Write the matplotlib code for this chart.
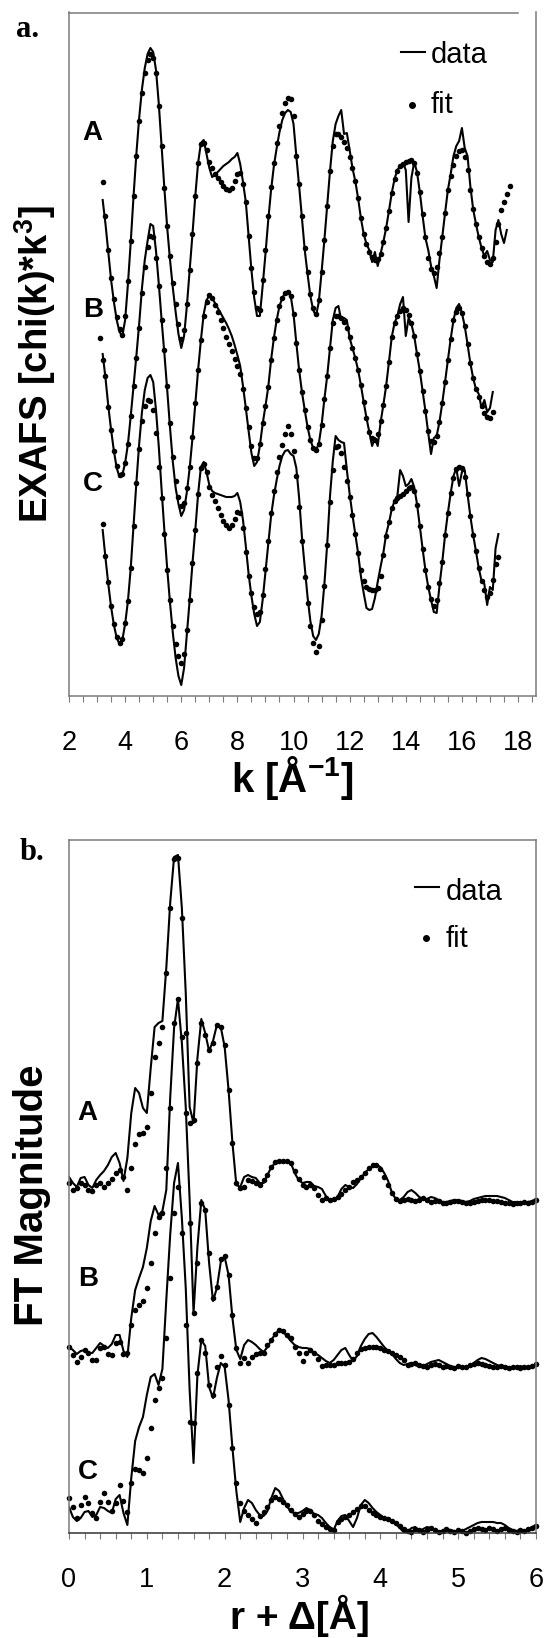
import numpy as np
import matplotlib.pyplot as plt
from matplotlib.lines import Line2D
from matplotlib.ticker import MultipleLocator

plt.rcParams['font.family'] = ['Liberation Sans', 'DejaVu Sans']
plt.rcParams['mathtext.fontset'] = 'custom'
plt.rcParams['mathtext.rm'] = 'Liberation Sans'
plt.rcParams['mathtext.bf'] = 'Liberation Sans:bold'

W, H = 548, 1638

# ---------------- panel a: EXAFS, k grid step 0.1, offsets already in values
A_data_k0 = 3.2
A_data = [49.6, 47.2, 44.4, 41.6, 39.4, 37.6, 36.4, 36.0,
          37.6, 41.2, 45.4, 50.0, 54.2, 57.8, 60.7, 62.8, 64.2, 64.8,
          64.4, 62.6, 59.2, 55.0, 50.7, 46.8, 43.6, 40.8, 38.4, 36.2,
          34.8, 36.0, 39.0, 42.6, 46.2, 50.0, 53.3, 55.3, 55.6, 54.2,
          52.8, 51.9, 52.1, 52.4, 52.7, 53.0, 53.2, 53.4, 53.7, 53.9,
          54.3, 53.2, 51.4, 49.4, 46.0, 42.6, 39.8, 38.0, 38.0, 41.0,
          44.2, 47.6, 50.6, 53.0, 54.8, 56.4, 57.6, 58.3, 58.6, 58.4,
          57.2, 54.0, 51.0, 47.8, 44.6, 42.2, 40.0, 38.6, 38.0, 39.4,
          42.4, 45.6, 49.0, 52.5, 55.5, 57.2, 58.0, 58.6, 56.2, 56.3,
          54.6, 52.8, 51.5, 49.8, 47.8, 46.2, 45.2, 44.6, 43.4, 44.4,
          43.0, 44.2, 45.4, 46.8, 48.5, 50.3, 51.7, 52.6, 53.0, 53.3,
          52.6, 47.4, 51.8, 53.4, 52.4, 50.4, 48.0, 45.8, 44.6, 43.0,
          42.0, 40.8, 43.6, 45.9, 48.3, 50.6, 52.2, 54.0, 55.0, 55.5,
          56.8, 54.8, 54.0, 51.0, 48.7, 47.2, 45.9, 44.8, 44.0, 44.5,
          43.6, 43.4, 46.6, 47.6, 46.2, 45.3, 46.6]
A_fit_k0 = 3.2
A_fit = [51.4, 48.0, 44.6, 41.8, 39.7, 37.9, 36.7, 36.1,
         38.0, 41.5, 45.5, 50.0, 54.0, 57.5, 60.3, 62.3, 63.6, 64.2,
         63.8, 62.3, 59.0, 55.0, 50.8, 47.0, 44.0, 41.3, 39.2, 37.2,
         35.7, 36.6, 39.2, 42.6, 46.2, 50.0, 53.3, 55.2, 55.3, 54.6,
         53.4, 52.8, 52.2, 51.8, 51.4, 51.0, 50.7, 50.6, 50.8, 51.5,
         52.2, 52.3, 51.2, 49.4, 46.0, 42.8, 40.4, 38.8, 38.6, 41.6,
         44.6, 48.0, 50.9, 53.3, 55.3, 57.0, 58.3, 59.3, 59.8, 59.7,
         58.0, 54.0, 51.2, 48.0, 44.8, 42.4, 40.2, 38.8, 38.2, 39.6,
         42.4, 45.6, 49.0, 52.5, 55.0, 56.2, 56.2, 55.9, 55.4, 54.8,
         53.9, 52.8, 51.5, 49.8, 47.8, 46.2, 45.2, 44.4, 43.9, 43.6,
         43.7, 44.2, 45.4, 46.8, 48.5, 50.3, 51.7, 52.5, 53.0, 53.2,
         53.4, 53.5, 53.6, 53.3, 52.3, 50.4, 48.2, 45.9, 43.8, 42.7,
         42.3, 42.9, 44.3, 45.9, 48.3, 50.6, 52.0, 53.1, 54.0, 54.5,
         54.6, 53.9, 52.6, 50.6, 48.7, 47.2, 45.9, 44.8, 44.0, 43.4,
         43.2, 43.8, 45.4, 47.2, 48.6, 49.4, 50.2, 51.0]

B_data_k0 = 3.2
B_data = [34.2, 31.8, 29.0, 26.6, 24.5, 22.8, 21.9, 22.1,
          23.3, 25.2, 28.0, 31.0, 34.0, 37.2, 40.8, 43.6, 45.5, 47.2,
          47.0, 44.5, 41.2, 37.6, 34.2, 30.6, 26.8, 23.4, 20.8, 19.2,
          18.0, 18.6, 20.4, 22.8, 25.8, 29.2, 32.6, 35.6, 38.2, 39.6,
          40.0, 39.8, 39.3, 38.8, 38.3, 37.8, 37.3, 36.7, 36.0, 35.1,
          34.1, 33.0, 31.0, 28.8, 26.5, 24.3, 23.0, 23.4, 25.0, 27.2,
          29.0, 30.9, 33.6, 35.8, 37.6, 39.0, 39.8, 40.3, 40.4, 40.0,
          38.2, 35.3, 32.6, 30.4, 28.6, 26.9, 25.6, 24.8, 24.6, 25.2,
          27.1, 29.7, 32.0, 34.8, 37.6, 38.8, 39.0, 37.6, 37.8, 37.6,
          35.8, 34.8, 33.8, 32.6, 31.1, 29.4, 27.8, 26.4, 25.0, 25.8,
          25.0, 27.3, 29.1, 31.0, 33.4, 35.9, 37.3, 38.0, 39.2, 39.9,
          36.0, 37.8, 37.2, 36.0, 34.2, 32.5, 30.5, 28.5, 26.3, 24.2,
          25.8, 26.0, 27.4, 29.3, 31.4, 33.6, 35.7, 37.6, 38.8, 39.2,
          38.3, 37.0, 35.2, 33.3, 31.8, 30.7, 30.2, 28.8, 29.6, 28.4,
          28.8, 30.4]
B_fit_k0 = 3.1
B_fit = [35.8, 33.6, 32.0, 28.9, 26.6, 24.5, 23.0, 22.1, 22.2,
         23.3, 25.2, 28.0, 31.0, 33.8, 36.8, 40.3, 42.9, 44.9, 46.0,
         45.9, 43.8, 41.0, 37.6, 34.6, 31.0, 27.3, 23.9, 21.5, 19.9,
         19.0, 19.3, 20.8, 22.9, 25.9, 29.3, 32.6, 35.6, 38.0, 39.4,
         40.1, 39.8, 39.1, 38.4, 37.6, 36.8, 35.9, 35.2, 34.5, 33.7,
         33.0, 32.2, 30.7, 28.8, 26.9, 25.0, 23.8, 23.8, 25.2, 27.3,
         29.0, 30.9, 33.6, 35.8, 37.6, 39.0, 39.8, 40.3, 40.4, 40.0,
         38.2, 35.3, 32.6, 30.4, 28.6, 26.9, 25.6, 24.8, 24.6, 25.2,
         27.1, 29.7, 32.0, 34.8, 37.3, 38.0, 38.0, 37.8, 37.4, 36.8,
         35.9, 34.8, 33.8, 32.6, 31.1, 29.4, 27.8, 26.4, 25.8, 25.6,
         26.2, 27.5, 29.1, 31.0, 33.4, 35.9, 37.3, 38.0, 38.5, 38.8,
         38.6, 38.1, 37.3, 36.0, 34.2, 32.5, 30.5, 28.5, 26.5, 25.5,
         25.4, 26.0, 27.4, 29.3, 31.4, 33.6, 35.7, 37.6, 38.4, 38.8,
         38.3, 37.0, 35.2, 33.3, 31.8, 30.7, 29.9, 29.0, 28.3, 27.9,
         27.8, 28.4]

C_data_k0 = 3.2
C_data = [16.6, 13.8, 11.2, 8.9, 7.1, 5.8, 5.2, 5.6,
          7.2, 9.5, 12.8, 17.0, 21.3, 25.2, 28.4, 30.6, 31.8, 32.1,
          31.4, 28.6, 24.9, 20.6, 16.5, 12.7, 9.3, 6.3, 3.8, 2.0,
          1.1, 2.8, 6.2, 9.6, 13.3, 16.6, 20.2, 22.9, 23.4, 22.4,
          21.1, 20.5, 20.3, 20.2, 20.1, 20.0, 19.9, 19.9, 19.9, 20.0,
          20.3, 19.4, 17.6, 15.0, 12.2, 10.0, 8.2, 7.0, 7.4, 9.6,
          12.4, 15.2, 18.0, 20.0, 21.6, 23.0, 24.0, 24.5, 24.6, 24.2,
          24.0, 22.8, 19.8, 15.9, 12.9, 9.9, 7.5, 6.0, 5.6, 6.2,
          8.0, 11.2, 15.2, 20.0, 23.5, 26.0, 25.6, 25.4, 25.3, 22.6,
          20.2, 18.1, 16.2, 14.3, 12.0, 10.3, 8.8, 8.6, 8.7, 9.8,
          11.4, 12.9, 14.3, 16.2, 17.3, 18.7, 19.5, 20.0, 22.6, 22.0,
          21.0, 21.2, 21.7, 20.9, 19.2, 17.0, 14.7, 12.6, 10.9, 9.6,
          8.4, 8.3, 11.0, 13.4, 16.1, 18.3, 20.3, 22.0, 22.8, 21.0,
          22.4, 22.6, 20.2, 18.0, 16.1, 14.5, 12.8, 11.5, 11.2, 9.1,
          10.9, 10.6, 14.8, 16.2]
C_fit_k0 = 3.2
C_fit = [17.2, 14.0, 11.4, 9.0, 7.2, 5.9, 5.3, 5.7,
         7.3, 9.5, 12.8, 17.0, 21.3, 24.7, 27.5, 29.0, 29.6, 29.5,
         28.6, 26.3, 22.9, 19.8, 16.2, 12.6, 9.6, 7.0, 5.2, 4.0,
         3.3, 4.2, 6.6, 9.6, 13.3, 16.6, 20.2, 22.8, 23.2, 22.4,
         20.9, 20.1, 19.5, 18.8, 18.1, 17.5, 17.1, 16.8, 17.1, 17.7,
         18.4, 18.3, 16.8, 14.4, 12.0, 10.3, 8.9, 8.2, 8.4, 10.1,
         12.7, 15.5, 18.3, 20.5, 22.4, 23.9, 25.1, 26.2, 27.0, 26.2,
         24.5, 22.0, 18.9, 15.5, 11.9, 9.3, 7.0, 5.3, 4.4, 5.0,
         7.6, 11.0, 15.1, 19.4, 22.6, 24.9, 25.0, 24.3, 22.9, 21.5,
         19.9, 18.1, 16.2, 14.3, 12.6, 11.5, 10.9, 10.7, 10.6, 10.6,
         10.8, 12.0, 14.1, 16.0, 17.4, 18.8, 19.5, 19.8, 20.0, 20.2,
         20.5, 20.8, 20.9, 20.5, 19.1, 17.0, 14.7, 12.6, 10.9, 9.7,
         9.0, 9.6, 11.3, 13.4, 16.1, 18.3, 20.3, 21.8, 22.7, 22.9,
         22.8, 21.9, 20.2, 18.0, 16.1, 14.5, 12.8, 11.5, 10.6, 9.9,
         10.3, 11.6, 13.2, 13.9]

# ---------------- panel b: FT magnitude, r grid 0..6 step 0.05
FA_data = [35.6, 35.0, 34.6, 35.5, 35.6, 34.8, 34.5, 35.3, 35.8, 36.2, 36.8, 37.6, 38.0, 37.0, 35.2, 37.5, 42.0, 44.5, 44.0, 42.5,
           42.0, 46.5, 50.6, 51.0, 51.2, 56.5, 63.0, 67.6, 67.8, 62.5, 54.0, 42.6, 41.0, 47.5, 51.4, 50.0, 48.2, 49.2, 50.8, 50.6,
           48.6, 44.3, 39.0, 34.8, 34.6, 35.6, 35.8, 35.6, 35.5, 35.0, 35.0, 35.8, 36.6, 37.0, 37.1, 37.1, 37.1, 37.0, 36.0, 35.3,
           35.0, 35.1, 35.1, 34.7, 34.6, 34.4, 33.7, 33.3, 33.3, 33.6, 34.4, 34.8, 34.6, 34.5, 34.9, 35.5, 36.0, 36.4, 36.7, 36.8,
           36.6, 36.0, 35.2, 34.0, 33.4, 33.3, 33.6, 34.1, 34.3, 34.0, 33.6, 33.4, 33.4, 33.6, 33.5, 33.3, 33.1, 33.1, 33.2, 33.3,
           33.3, 33.2, 33.1, 33.2, 33.4, 33.5, 33.6, 33.7, 33.7, 33.7, 33.7, 33.6, 33.5, 33.3, 33.1, 33.1, 33.0, 33.1, 33.1, 33.2,
           33.4]
FA_fit = [35.0, 34.3, 34.5, 35.0, 34.8, 34.3, 34.2, 34.8, 35.0, 34.6, 35.0, 35.4, 36.0, 36.3, 35.6, 34.3, 36.5, 38.9, 39.9, 40.0,
          40.6, 44.0, 47.6, 49.0, 50.6, 56.0, 62.5, 67.4, 67.5, 61.5, 50.0, 41.0, 41.3, 47.0, 51.0, 49.8, 48.3, 49.0, 50.8, 50.6,
          48.8, 44.3, 39.0, 35.0, 34.5, 34.6, 35.3, 35.2, 35.0, 34.8, 35.3, 35.8, 36.6, 37.1, 37.2, 37.2, 37.2, 37.0, 36.2, 35.4,
          34.8, 34.6, 34.8, 34.5, 33.8, 33.3, 33.5, 33.3, 33.4, 33.6, 33.9, 34.3, 34.6, 35.1, 35.3, 35.6, 36.0, 36.5, 36.8, 36.8,
          36.4, 35.6, 34.8, 34.0, 33.4, 33.2, 33.3, 33.4, 33.3, 33.2, 33.3, 33.5, 33.3, 33.1, 33.2, 33.2, 33.0, 33.0, 33.1, 33.2,
          33.2, 33.1, 33.0, 33.0, 33.1, 33.2, 33.3, 33.3, 33.3, 33.2, 33.2, 33.1, 33.0, 33.0, 32.9, 33.0, 33.0, 33.1, 33.0, 33.1,
          33.3]
FB_data = [18.6, 18.3, 17.9, 18.2, 18.3, 18.0, 18.0, 18.5, 19.0, 18.7, 18.5, 18.9, 19.8, 19.8, 18.2, 17.6, 21.5, 24.3, 25.5, 26.6,
           28.5, 31.2, 32.7, 31.8, 32.2, 34.3, 43.5, 50.5, 53.4, 49.0, 42.6, 33.3, 22.0, 28.6, 33.3, 32.3, 27.0, 23.2, 24.5, 27.1,
           27.6, 25.8, 21.5, 18.3, 17.4, 18.8, 19.3, 19.1, 18.8, 18.4, 18.1, 18.6, 19.3, 19.9, 20.3, 20.1, 19.7, 19.2, 18.8, 18.6,
           18.5, 18.5, 18.4, 18.0, 17.8, 17.5, 17.2, 17.0, 17.3, 17.8, 18.3, 18.5, 17.8, 17.2, 17.7, 18.7, 19.4, 19.9, 20.0, 19.6,
           19.1, 18.6, 18.2, 17.9, 17.4, 17.0, 16.8, 16.9, 17.0, 16.8, 16.6, 16.7, 16.9, 17.1, 17.2, 17.3, 17.1, 16.9, 16.7, 16.6,
           16.6, 16.6, 16.6, 16.7, 17.0, 17.3, 17.5, 17.4, 17.2, 17.0, 16.8, 16.7, 16.6, 16.6, 16.6, 16.6, 16.7, 16.6, 16.6, 16.7,
           16.9]
FB_fit = [18.6, 17.8, 17.1, 17.6, 18.3, 18.0, 17.3, 17.3, 18.5, 18.6, 17.9, 17.8, 19.0, 19.1, 17.9, 18.0, 20.8, 22.3, 22.8, 23.2,
          24.5, 27.0, 30.0, 31.6, 32.0, 36.5, 42.5, 51.0, 53.4, 49.6, 42.0, 31.0, 22.0, 27.0, 33.0, 32.3, 28.0, 23.5, 24.6, 27.4,
          27.7, 25.8, 21.8, 18.5, 17.0, 17.5, 17.0, 17.6, 17.9, 18.0, 18.0, 18.8, 19.3, 19.9, 20.3, 20.2, 19.8, 19.5, 18.6, 18.0,
          17.2, 18.0, 18.3, 18.0, 17.4, 16.7, 16.8, 16.8, 16.8, 17.0, 17.0, 17.0, 17.1, 17.4, 18.0, 18.4, 18.5, 18.6, 18.6, 18.6,
          18.5, 18.3, 18.2, 18.0, 17.8, 17.6, 17.3, 16.8, 16.9, 17.0, 16.8, 16.7, 16.6, 16.8, 16.9, 16.8, 16.6, 16.7, 16.6, 16.5,
          16.7, 16.6, 16.6, 16.8, 16.9, 17.0, 16.9, 16.8, 16.7, 16.6, 16.6, 16.7, 16.6, 16.5, 16.6, 16.6, 16.5, 16.6, 16.6, 16.7,
          16.9]
FC_data = [2.6, 1.6, 1.2, 1.5, 2.1, 2.2, 1.6, 1.8, 2.6, 2.5, 2.2, 2.0, 3.4, 3.8, 2.0, 0.8, 5.5, 9.2, 10.6, 11.6,
           13.8, 15.6, 15.9, 14.8, 16.4, 23.3, 29.8, 35.0, 37.0, 31.5, 24.5, 14.3, 7.0, 15.8, 19.3, 18.7, 14.6, 13.5, 15.5, 17.0,
           16.6, 13.3, 8.5, 4.2, 1.1, 2.5, 3.3, 3.0, 2.3, 1.8, 1.7, 2.2, 3.5, 4.5, 4.2, 3.4, 2.7, 2.1, 2.0, 2.0,
           2.2, 2.5, 2.3, 1.9, 1.8, 1.5, 1.0, 0.6, 0.3, 1.2, 1.7, 1.8, 1.2, 0.6, 1.5, 2.8, 3.3, 3.0, 2.5, 2.1,
           1.8, 1.5, 1.3, 1.1, 0.9, 0.5, 0.1, 0.1, 0.5, 0.6, 0.2, 0.4, 0.6, 0.5, 0.3, 0.1, 0.2, 0.4, 0.3, 0.2,
           0.1, 0.2, 0.4, 0.6, 0.8, 1.0, 1.1, 1.1, 1.1, 1.1, 1.0, 1.0, 0.8, 0.5, 0.3, 0.2, 0.3, 0.2, 0.4, 0.6,
           0.8]
FC_fit = [3.5, 2.6, 1.5, 2.8, 3.6, 3.0, 2.0, 1.5, 3.1, 4.0, 3.1, 2.2, 3.0, 4.8, 3.2, 2.1, 5.0, 6.4, 6.3, 6.0,
          7.5, 10.5, 13.3, 14.5, 15.5, 19.5, 25.5, 32.0, 34.6, 30.0, 20.8, 11.1, 11.0, 16.0, 19.3, 18.0, 14.8, 13.8, 16.6, 17.7,
          16.8, 12.8, 8.5, 5.0, 3.0, 2.2, 1.8, 1.4, 1.0, 1.7, 2.1, 2.6, 3.3, 3.6, 3.4, 3.1, 2.8, 2.3, 1.9, 1.6,
          1.9, 2.2, 2.2, 1.8, 1.2, 0.9, 0.6, 0.4, 0.3, 1.1, 1.4, 1.6, 1.8, 2.1, 2.4, 2.7, 2.7, 2.3, 2.0, 1.8,
          1.6, 1.5, 1.4, 1.2, 1.0, 0.7, 0.4, 0.2, 0.1, 0.4, 0.3, 0.1, 0.3, 0.5, 0.3, 0.1, 0.2, 0.4, 0.2, 0.1,
          0.3, 0.2, 0.0, 0.2, 0.4, 0.5, 0.4, 0.3, 0.5, 0.4, 0.2, 0.4, 0.5, 0.3, 0.2, 0.1, 0.3, 0.2, 0.4, 0.5,
          0.7]

gray = '#7a7a7a'


def fx(x):
    return x / W


def fy(y):
    return 1 - y / H


def kgrid(k0, vals, step):
    return k0 + step * np.arange(len(vals))


fig = plt.figure(figsize=(W / 100, H / 100), dpi=100)

ax_a = fig.add_axes([fx(69), fy(696), (536 - 69) / W, (696 - 12.5) / H])
ax_b = fig.add_axes([fx(69), fy(1533), (536 - 69) / W, (1533 - 840) / H])

for k0, vals in [(A_data_k0, A_data), (B_data_k0, B_data), (C_data_k0, C_data)]:
    ax_a.plot(kgrid(k0, vals, 0.1), vals, color='black', lw=1.5)
for k0, vals in [(A_fit_k0, A_fit), (B_fit_k0, B_fit), (C_fit_k0, C_fit)]:
    ax_a.plot(kgrid(k0, vals, 0.1), vals, 'o', color='black', ms=4.0, mew=0)

for vals in [FA_data, FB_data, FC_data]:
    ax_b.plot(kgrid(0, vals, 0.05), vals, color='black', lw=1.5)
for vals in [FA_fit, FB_fit, FC_fit]:
    ax_b.plot(kgrid(0, vals, 0.05), vals, 'o', color='black', ms=4.0, mew=0,
              clip_on=False)

ax_a.set_xlim(2, 18.64)
ax_a.set_ylim(0, 68.35)
ax_a.set_xticks(range(2, 19, 2))
ax_a.xaxis.set_minor_locator(MultipleLocator(0.5))
ax_a.spines['top'].set_bounds(2, 18)

ax_b.set_xlim(0, 6)
ax_b.set_ylim(0, 69.3)
ax_b.set_xticks(range(0, 7))
ax_b.xaxis.set_minor_locator(MultipleLocator(0.2))

for ax in (ax_a, ax_b):
    ax.set_yticks([])
    for s in ax.spines.values():
        s.set_color(gray)
        s.set_linewidth(1.1)
    ax.tick_params(axis='x', which='both', direction='out', length=4.3,
                   width=0.8, color=gray, labelsize=19.5, pad=20)
ax_b.spines['bottom'].set_color('#333333')

# axis titles
fig.text(fx(35), fy(364), 'EXAFS [chi(k)*k$^{\\mathbf{3}}$]', rotation=90,
         ha='center', va='center', fontsize=27.5, fontweight='bold')
fig.text(fx(292), fy(778), 'k [Å$^{\\mathbf{-1}}$]', ha='center', va='center',
         fontsize=29, fontweight='bold')
fig.text(fx(32), fy(1195), 'FT Magnitude', rotation=90, ha='center',
         va='center', fontsize=29, fontweight='bold')
fig.text(fx(300), fy(1629), 'r + Δ[Å]', ha='center', va='baseline',
         fontsize=28, fontweight='bold')

# panel letters
fig.text(fx(16), fy(37), 'a.', fontfamily='Liberation Serif',
         fontweight='bold', fontsize=22, va='baseline')
fig.text(fx(20), fy(860), 'b.', fontfamily='Liberation Serif',
         fontweight='bold', fontsize=22, va='baseline')

# sample labels
for x, y, s in [(82.7, 140, 'A'), (82.7, 317, 'B'), (82.7, 491, 'C'),
                (77, 1120, 'A'), (78, 1286, 'B'), (78, 1479, 'C')]:
    fig.text(fx(x), fy(y), s, fontsize=20, fontweight='bold', va='baseline')

# legends
for x_line, y_line, x_txt, y_data, y_fit, x_dot, y_dot in [
        (401, 52, 431, 63, 113, 412, 105),
        (415, 887, 446, 900, 947, 426, 938)]:
    fig.add_artist(Line2D([fx(x_line), fx(x_line + 24)], [fy(y_line), fy(y_line)],
                          color='black', lw=1.5, transform=fig.transFigure))
    fig.text(fx(x_txt), fy(y_data), 'data', fontsize=21, va='baseline')
    fig.add_artist(Line2D([fx(x_dot)], [fy(y_dot)], marker='o', ms=4.0,
                          color='black', ls='none', transform=fig.transFigure))
    fig.text(fx(x_txt), fy(y_fit), 'fit', fontsize=21, va='baseline')

fig.savefig('out.png', dpi=100)
